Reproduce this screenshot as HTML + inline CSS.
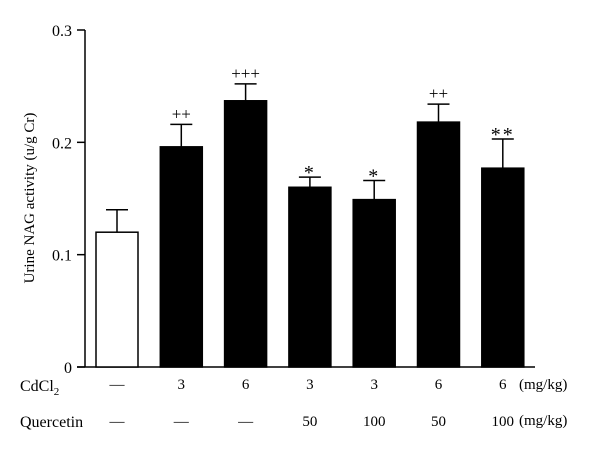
<!DOCTYPE html>
<html><head><meta charset="utf-8"><style>
body{margin:0;background:#fff}
svg{display:block;font-family:"Liberation Serif",serif}
</style></head><body>
<svg width="600" height="450" xmlns="http://www.w3.org/2000/svg" id="chart"></svg>
<script>
const values=[0.120,0.196,0.237,0.160,0.149,0.218,0.177];
const errors=[0.020,0.020,0.015,0.009,0.017,0.016,0.026];
const marks=["","++","+++","*","*","++","**"];
const cdcl2=["—","3","6","3","3","6","6"];
const quercetin=["—","—","—","50","100","50","100"];
const yTicks=[0,0.1,0.2,0.3];
const yTickLabels=["0","0.1","0.2","0.3"];

const svg=document.getElementById('chart');
const NS="http://www.w3.org/2000/svg";
const y0=367,yTop=30,yMax=0.3;
const y=v=>y0-(v/yMax)*(y0-yTop);
const x=i=>96+i*64.3;
const bw=42;
function el(t,a,txt){const e=document.createElementNS(NS,t);for(const k in a)e.setAttribute(k,a[k]);if(txt!=null)e.textContent=txt;svg.appendChild(e);return e;}

const ya=el('line',{x1:85,y1:yTop,x2:85,y2:y0,stroke:'#000','stroke-width':1.5});


const xa=el('line',{x1:77,y1:y0,x2:535,y2:y0,stroke:'#000','stroke-width':1.5});



yTicks.forEach((t,i)=>{
 const tk=el('line',{x1:77,y1:y(t),x2:85,y2:y(t),stroke:'#000','stroke-width':1.5});
 
 
 const lb=el('text',{x:72,y:y(t)+6,'text-anchor':'end','font-size':16},yTickLabels[i]);
 
 
});

const yt=el('text',{x:0,y:0,transform:'translate(34,198) rotate(-90)','text-anchor':'middle','font-size':15},'Urine NAG activity (u/g Cr)');



values.forEach((v,i)=>{
 const cx=x(i)+bw/2;
 const et=y(v+errors[i]);
 const e1=el('line',{x1:cx,y1:y(v),x2:cx,y2:et,stroke:'#000','stroke-width':1.5});
 
 
 const e2=el('line',{x1:cx-11,y1:et,x2:cx+11,y2:et,stroke:'#000','stroke-width':1.5});
 
 
 const r=el('rect',{x:x(i),y:y(v),width:bw,height:y0-y(v),fill:i===0?'#fff':'#000',stroke:'#000','stroke-width':1.5});
 
 
 if(marks[i]){
  const star=marks[i].includes('*');
  const m=el('text',{x:cx,y:et-(star?-2:5),'text-anchor':'middle','font-size':star?20:17,'letter-spacing':star?2:0},marks[i]);
  
  
 }
 const c=el('text',{x:cx,y:389,'text-anchor':'middle','font-size':15},cdcl2[i]);
 
 
 const q=el('text',{x:cx,y:426,'text-anchor':'middle','font-size':15},quercetin[i]);
 
 
});

const r1=el('text',{x:20,y:391,'font-size':16},'CdCl');


const sub=document.createElementNS(NS,'tspan');sub.setAttribute('font-size',11);sub.setAttribute('dy',4);sub.textContent='2';r1.appendChild(sub);
const r2=el('text',{x:20,y:427,'font-size':16},'Quercetin');


const u1=el('text',{x:519,y:389,'font-size':15},'(mg/kg)');


const u2=el('text',{x:519,y:425,'font-size':15},'(mg/kg)');


</script>
</body></html>
